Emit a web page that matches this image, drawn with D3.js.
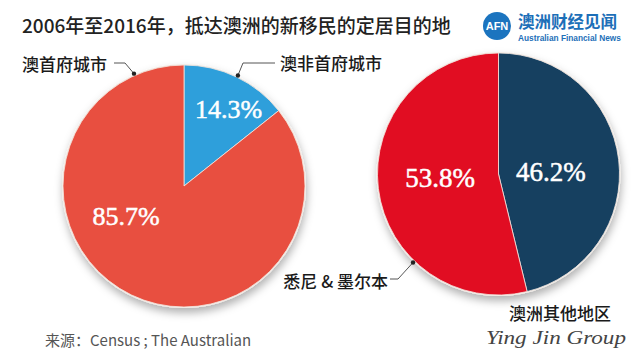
<!DOCTYPE html>
<html>
<head>
<meta charset="utf-8">
<script src="https://cdn.jsdelivr.net/npm/d3@7"></script>
<style>
  body { margin: 0; background: #fff; }
  text { font-family: "Noto Sans CJK SC", "Noto Sans", sans-serif; }
</style>
</head>
<body>
<div id="chart"></div>
<script>
// data
var leftLabels = ["澳非首府城市", "澳首府城市"];
var leftValues = [14.3, 85.7];
var rightLabels = ["澳洲其他地区", "悉尼 & 墨尔本"];
var rightValues = [46.2, 53.8];

var W = 636, H = 363;

var svg = d3.select("#chart")
  .append("svg")
    .attr("width", W)
    .attr("height", H);

svg.append("rect").attr("width", W).attr("height", H).attr("fill", "#fff");

// drop shadow under the pies
var defs = svg.append("defs");
var f = defs.append("filter").attr("id", "shadow")
  .attr("x", "-20%").attr("y", "-20%").attr("width", "140%").attr("height", "140%");
f.append("feDropShadow")
  .attr("dx", 1).attr("dy", 5)
  .attr("stdDeviation", 4)
  .attr("flood-color", "#000")
  .attr("flood-opacity", 0.3);

// title
svg.append("text")
  .attr("x", 22).attr("y", 33)
  .attr("font-size", 19)
  .attr("font-weight", 500)
  .attr("fill", "#222")
  .text("2006年至2016年，抵达澳洲的新移民的定居目的地");

// logo
svg.append("circle").attr("cx", 497).attr("cy", 26).attr("r", 14).attr("fill", "#1b74bf");
svg.append("text")
  .attr("x", 497).attr("y", 30)
  .attr("text-anchor", "middle")
  .attr("font-weight", "bold")
  .attr("font-size", 11)
  .attr("fill", "#fff")
  .style("font-family", "Liberation Sans, sans-serif")
  .text("AFN");
svg.append("text")
  .attr("x", 518).attr("y", 28)
  .attr("font-size", 16.5)
  .attr("font-weight", "bold")
  .attr("fill", "#1d6fb8")
  .text("澳洲财经见闻");
svg.append("text")
  .attr("x", 518).attr("y", 41)
  .attr("font-size", 8.3)
  .attr("font-weight", "bold")
  .attr("fill", "#1d6fb8")
  .style("font-family", "Liberation Sans, sans-serif")
  .text("Australian Financial News");

var R = 121;
var pie = d3.pie().sort(null).value(function(d) { return d; });
var arc = d3.arc().innerRadius(0).outerRadius(R);

function drawPie(cx, cy, values, colors, fontSize, labelPos) {
  var g = svg.append("g").attr("transform", "translate(" + cx + "," + cy + ")");
  var arcs = pie(values);
  var sl = g.append("g").attr("filter", "url(#shadow)");
  sl.append("circle").attr("r", R + 1).attr("fill", "#f4eee8");
  sl.selectAll("path")
    .data(arcs)
    .enter()
    .append("path")
      .attr("d", arc)
      .attr("fill", function(d, i) { return colors[i]; })
      .attr("stroke", "#f3e6e0")
      .attr("stroke-width", 0.8);
  g.selectAll("text.pct")
    .data(arcs)
    .enter()
    .append("text")
      .attr("class", "pct")
      .attr("transform", function(d, i) {
        var p = d3.pointRadial(labelPos[i][0] * Math.PI / 180, labelPos[i][1]);
        return "translate(" + p[0] + "," + p[1] + ")";
      })
      .attr("dy", "0.35em")
      .attr("text-anchor", "middle")
      .attr("font-size", fontSize)
      .attr("fill", "#fff")
      .attr("stroke", "#fff")
      .attr("stroke-width", 0.5)
      .style("font-family", "Liberation Serif, serif")
      .text(function(d) { return d3.format(".1f")(d.data) + "%"; });
  return g;
}

var leftPie = drawPie(184, 186, leftValues, ["#2d9fdb", "#e8503f"], 26, [[30, 89], [243, 65]]);
var rightPie = drawPie(498.5, 174, rightValues, ["#123f60", "#e10d22"], 27, [[87, 52.5], [267, 58.5]]);

// category labels with leader lines
function leader(g, cx, cy, angle, pts) {
  var p = d3.pointRadial(angle * Math.PI / 180, R + 2);
  var line = pts.concat([[cx + p[0], cy + p[1]]]);
  svg.append("path")
    .attr("d", d3.line()(line))
    .attr("fill", "none")
    .attr("stroke", "#555")
    .attr("stroke-width", 1);
  svg.append("circle")
    .attr("cx", cx + p[0]).attr("cy", cy + p[1])
    .attr("r", 2.2).attr("fill", "#222");
}

function label(x, y, txt, anchor) {
  svg.append("text")
    .attr("x", x).attr("y", y)
    .attr("text-anchor", anchor || "start")
    .attr("font-size", 17)
    .attr("font-weight", 500)
    .attr("fill", "#1a1a1a")
    .text(txt);
}

label(22, 71, leftLabels[1]);
leader(leftPie, 184, 186, 336, [[114, 63], [125, 63]]);
label(280, 70, leftLabels[0]);
leader(leftPie, 184, 186, 26, [[275, 63], [243, 63]]);
label(388, 288, rightLabels[1], "end");
leader(rightPie, 498.5, 174, 224, [[390, 279], [398, 279]]);
label(509, 320, rightLabels[0]);

// source
svg.append("text")
  .attr("x", 45).attr("y", 346)
  .attr("font-size", 15)
  .attr("fill", "#555")
  .text("来源：Census ; The Australian");

// signature watermark
svg.append("text")
  .attr("x", 486).attr("y", 344)
  .attr("font-size", 18)
  .attr("font-style", "italic")
  .attr("fill", "#444")
  .attr("textLength", 140)
  .attr("lengthAdjust", "spacingAndGlyphs")
  .style("font-family", "Liberation Serif, serif")
  .text("Ying Jin Group");
</script>
</body>
</html>
